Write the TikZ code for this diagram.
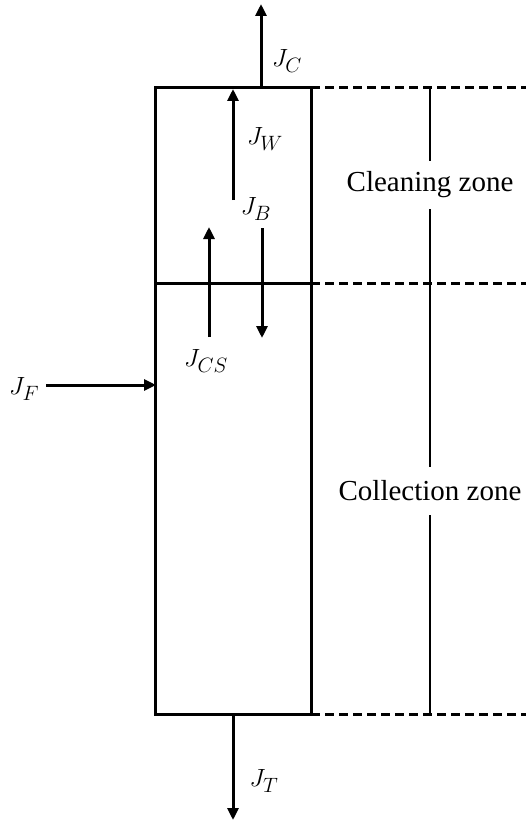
\documentclass[tikz,border=0pt]{standalone}
\usepackage{fontspec}
\setmainfont{Liberation Serif}
\usetikzlibrary{arrows.meta}
\begin{document}
\begin{tikzpicture}[x=1pt,y=-1pt,
  wall/.style={line width=3pt},
  flow/.style={line width=3pt,-{Triangle[width=11pt,length=12pt]}},
  zoneline/.style={line width=3pt,dash pattern=on 9pt off 5pt},
  midline/.style={line width=2pt},
  lbl/.style={inner sep=0pt,font=\fontsize{31}{35}\selectfont},
  zone/.style={inner sep=0pt,minimum height=48pt,font=\fontsize{29}{34}\selectfont}]
\useasboundingbox (0,0) rectangle (526,821);
% box corners
\coordinate (TL) at (155,88);
\coordinate (TR) at (311,88);
\coordinate (ML) at (155,283);
\coordinate (MR) at (311,283);
\coordinate (BL) at (155,714);
\coordinate (BR) at (311,714);
\coordinate (TE) at (526,88);
\coordinate (ME) at (526,283);
\coordinate (BE) at (526,714);
\draw[wall,line join=miter] (TL) -- (TR) -- (BR) -- (BL) -- cycle;
\draw[wall] (ML) -- (MR);
\draw[zoneline] (TR) -- (TE);
\draw[zoneline] (MR) -- (ME);
\draw[zoneline] (BR) -- (BE);
% zone labels and vertical line
\coordinate (Vt) at (430,88);
\coordinate (Vb) at (430,714);
\node[zone] (clean) at (430,185) {Cleaning zone};
\node[zone] (coll) at (430,491) {Collection zone};
\draw[midline] (Vt) -- (clean.north);
\draw[midline] (clean.south) -- (coll.north);
\draw[midline] (coll.south) -- (Vb);
% J_C
\coordinate (c0) at (261,88);
\coordinate (c1) at (261,4);
\draw[flow] (c0) -- (c1);
\node[lbl] (JC) at (287,61) {$J_C$};
% J_W
\coordinate (w0) at (233,200);
\coordinate (w1) at (233,89);
\draw[flow] (w0) -- (w1);
\node[lbl] (JW) at (265,139) {$J_W$};
% J_B
\coordinate (b0) at (262,228);
\coordinate (b1) at (262,338);
\draw[flow] (b0) -- (b1);
\node[lbl] (JB) at (256,209) {$J_B$};
% J_CS
\coordinate (s0) at (209,337);
\coordinate (s1) at (209,227);
\draw[flow] (s0) -- (s1);
\node[lbl] (JCS) at (206,361) {$J_{CS}$};
% J_F
\coordinate (f0) at (46,385);
\coordinate (f1) at (156,385);
\draw[flow] (f0) -- (f1);
\node[lbl] (JF) at (24,389) {$J_F$};
% J_T
\coordinate (t0) at (233,714);
\coordinate (t1) at (233,820);
\draw[flow] (t0) -- (t1);
\node[lbl] (JT) at (264,781) {$J_T$};
\end{tikzpicture}
\end{document}
